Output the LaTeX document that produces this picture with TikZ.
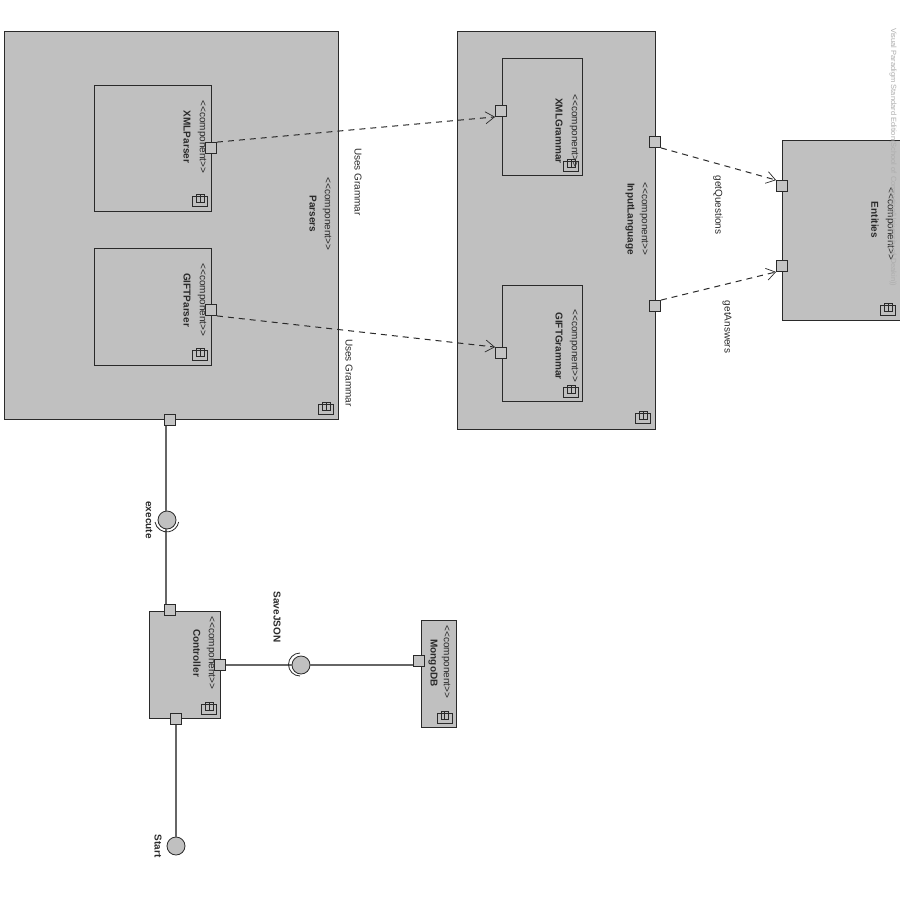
\documentclass[tikz,border=0pt]{standalone}
\usepackage{fontspec}
\setmainfont{Liberation Sans}
\usetikzlibrary{arrows.meta}
\definecolor{compfill}{HTML}{C0C0C0}
\definecolor{portfill}{HTML}{C4C4C4}
\definecolor{inkc}{HTML}{2A2A2A}
\tikzset{
  comp/.style={draw=inkc,fill=compfill,line width=1.2pt,inner sep=0pt,anchor=north west},
  portbox/.style={draw=inkc,fill=portfill,line width=.8pt,minimum size=11pt,inner sep=0pt},
  ball/.style={circle,draw=inkc,fill=compfill,line width=.8pt,minimum size=18pt,inner sep=0pt},
  stereo/.style={rotate=-90,font=\fontsize{10}{11}\selectfont,text=inkc,inner sep=0pt},
  cname/.style={rotate=-90,font=\fontsize{10}{11}\selectfont\bfseries,text=inkc,inner sep=0pt},
  lbl/.style={rotate=-90,font=\fontsize{10}{11}\selectfont,text=inkc,inner sep=0pt},
  dep/.style={draw=inkc,line width=1pt,dash pattern=on 6pt off 5pt,-{Straight Barb[length=9pt,width=12pt,line width=.7pt]}},
  conn/.style={draw=black!60,line width=1.5pt},
  wire/.style={draw=inkc,line width=.8pt},
  water/.style={rotate=-90,font=\fontsize{7.5}{8}\selectfont,text=black!32,inner sep=0pt,anchor=west}
}
\newcommand{\compicon}[2]{%
  \draw[wire] (#1-7.5,#2-4.5) rectangle (#1+7.5,#2+5);
  \draw[wire] (#1-3.5,#2-6.5) rectangle (#1,#2+1.5);
  \draw[wire] (#1,#2-6.5) rectangle (#1+4,#2+1.5);
}
\newcommand{\stereotext}{{<}{<}component{>}{>}}
\begin{document}
\begin{tikzpicture}[x=1pt,y=-1pt]
\useasboundingbox (0,0) rectangle (900,900);
\fill[white] (0,0) rectangle (900,900);

% components
\node[comp,minimum width=334pt,minimum height=388pt] (parsers) at (4,31) {};
\node[comp,minimum width=198pt,minimum height=398pt] (input) at (457,31) {};
\node[comp,minimum width=117pt,minimum height=126pt] (xmlp) at (94,85) {};
\node[comp,minimum width=117pt,minimum height=117pt] (giftp) at (94,248) {};
\node[comp,minimum width=80pt,minimum height=117pt] (xmlg) at (502,58) {};
\node[comp,minimum width=80pt,minimum height=116pt] (giftg) at (502,285) {};
\node[comp,minimum width=119pt,minimum height=180pt] (entities) at (782,140) {};
\node[comp,minimum width=71pt,minimum height=107pt] (controller) at (149,611) {};
\node[comp,minimum width=35pt,minimum height=107pt] (mongo) at (421,620) {};

% titles
\node[stereo] (t1) at (327,214) {\stereotext};
\node[cname] (n1) at (313,214) {Parsers};
\node[stereo] (t2) at (202,137) {\stereotext};
\node[cname] (n2) at (187,137) {XMLParser};
\node[stereo] (t3) at (202,300) {\stereotext};
\node[cname] (n3) at (187,300) {GIFTParser};
\node[stereo] (t4) at (574,131) {\stereotext};
\node[cname] (n4) at (559,131) {XMLGrammar};
\node[stereo] (t5) at (574,346) {\stereotext};
\node[cname] (n5) at (559,346) {GIFTGrammar};
\node[stereo] (t6) at (644,219) {\stereotext};
\node[cname] (n6) at (630,219) {InputLanguage};
\node[stereo] (t7) at (890,224) {\stereotext};
\node[cname] (n7) at (875,220) {Entities};
\node[stereo] (t8) at (211,653) {\stereotext};
\node[cname] (n8) at (197,653) {Controller};
\node[stereo] (t9) at (446,662) {\stereotext};
\node[cname] (n9) at (433,663) {MongoDB};

% icons
\compicon{200}{201}
\compicon{200}{355}
\compicon{571}{166}
\compicon{571}{392}
\compicon{643}{418}
\compicon{326}{409}
\compicon{888}{310}
\compicon{209}{709}
\compicon{444.5}{718}

% interface connectors
\node[ball] (execball) at (167,520) {};
\node[ball] (saveball) at (301,665) {};
\node[ball] (startball) at (176,846) {};
\node[portbox] (pout) at (170,420) {};
\node[portbox] (cup) at (170,610) {};
\node[portbox] (cright) at (220,665) {};
\node[portbox] (cdown) at (176,719) {};
\node[portbox] (mport) at (419,661) {};
\draw[conn] ([xshift=-4pt]pout.south) -- ([xshift=-1pt]execball.north);
\draw[conn] ([xshift=-1pt]execball.south) -- ([xshift=-4pt]cup.north);
\draw[conn] (cright.east) -- (saveball.west);
\draw[conn] (saveball.east) -- (mport.west |- saveball.east);
\draw[conn] (cdown.south) -- (startball.north);
\draw[wire] (155,522) arc[start angle=190,end angle=350,radius=12pt];
\draw[wire] (300,653) arc[start angle=90,end angle=270,radius=11.5pt];

% ports and dependencies
\node[portbox] (xp) at (211,148) {};
\node[portbox] (gp) at (211,310) {};
\node[portbox] (xg) at (501,111) {};
\node[portbox] (gg) at (501,353) {};
\node[portbox] (i1) at (655,142) {};
\node[portbox] (i2) at (655,306) {};
\node[portbox] (e1) at (782,186) {};
\node[portbox] (e2) at (782,266) {};
\draw[dep] (xp.north east) -- (xg.south west);
\draw[dep] (gp.south east) -- (gg.north west);
\draw[dep] (i1.south east) -- (e1.north west);
\draw[dep] (i2.north east) -- (e2.south west);

% labels
\node[lbl] (l1) at (358,182) {Uses Grammar};
\node[lbl] (l2) at (349,373) {Uses Grammar};
\node[lbl] (l3) at (718,205) {getQuestions};
\node[lbl] (l4) at (727,327) {getAnswers};
\node[cname] (l5) at (149,520) {execute};
\node[cname] (l6) at (277,617) {SaveJSON};
\node[cname] (l7) at (158,846) {Start};
\node[water] (wm) at (893,28) {Visual Paradigm Standard Edition(School of Computing(University of Deakin))};
\end{tikzpicture}
\end{document}
